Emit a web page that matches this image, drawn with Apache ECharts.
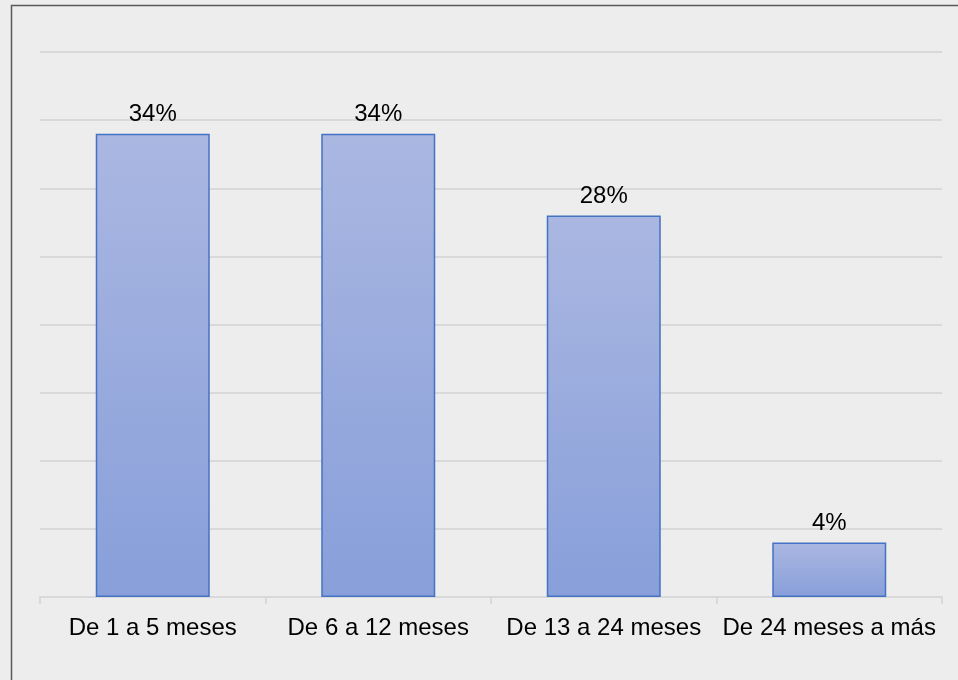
<!DOCTYPE html>
<html>
<head>
<meta charset="utf-8">
<script src="https://cdn.jsdelivr.net/npm/echarts@6/dist/echarts.min.js"></script>
<style>
  html, body { margin: 0; padding: 0; background: #ededed; }
  #chart { width: 958px; height: 680px; }
</style>
</head>
<body>
<div id="chart"></div>
<script>
// Tiempo de permanencia: porcentaje por rango de meses
const categories = ['De 1 a 5 meses', 'De 6 a 12 meses', 'De 13 a 24 meses', 'De 24 meses a más'];
const values = [34, 34, 28, 4];

const chart = echarts.init(document.getElementById('chart'), null, { renderer: 'canvas' });

chart.setOption({
  backgroundColor: '#ededed',
  animation: false,
  textStyle: { fontFamily: 'Liberation Sans, Arial, sans-serif' },
  graphic: [{
    type: 'rect',
    shape: { x: 11.5, y: 5.5, width: 1000, height: 1000 },
    style: { fill: 'none', stroke: '#595959', lineWidth: 1.5 },
    silent: true
  }],
  grid: { left: 40, right: 16, top: 52, bottom: 83 },
  xAxis: {
    type: 'category',
    data: categories,
    axisLine: { lineStyle: { color: '#d9d9d9', width: 2 } },
    axisTick: { show: true, interval: 0, alignWithLabel: false, length: 7, lineStyle: { color: '#d9d9d9', width: 2 } },
    axisLabel: { color: '#000', fontSize: 24, margin: 19, interval: 0, hideOverlap: false }
  },
  yAxis: {
    type: 'value',
    min: 0, max: 40, interval: 5,
    axisLabel: { show: false },
    axisLine: { show: false },
    axisTick: { show: false },
    splitLine: { lineStyle: { color: '#d9d9d9', width: 2 } }
  },
  series: [{
    type: 'bar',
    data: values,
    barWidth: 114,
    itemStyle: {
      color: new echarts.graphic.LinearGradient(0, 0, 0, 1, [
        { offset: 0, color: '#aab7e1' },
        { offset: 1, color: '#889fda' }
      ]),
      borderColor: '#4472c4',
      borderWidth: 1.5
    },
    label: {
      show: true,
      position: 'top',
      distance: 7,
      color: '#000',
      fontSize: 24,
      formatter: p => p.value + '%'
    }
  }]
});
</script>
</body>
</html>
